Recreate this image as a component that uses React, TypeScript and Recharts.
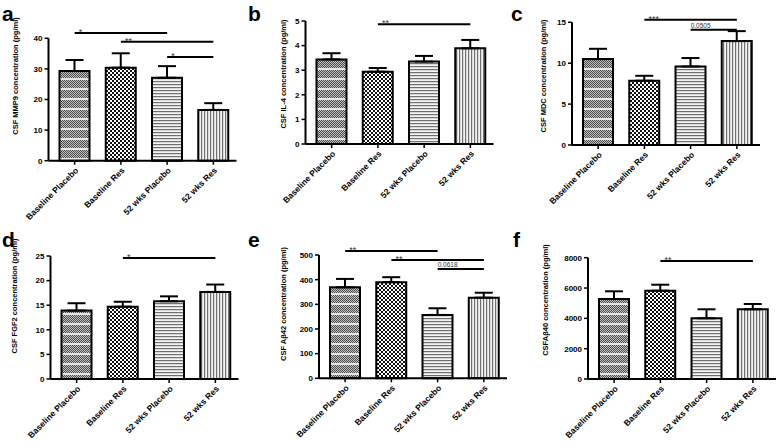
import React from 'react';
import { BarChart, Bar, XAxis, YAxis, ErrorBar, Cell, ReferenceLine, Label } from 'recharts';

const categories = ['Baseline Placebo', 'Baseline Res', '52 wks Placebo', '52 wks Res'];

// a: MMP9
const mmp9Values = [29.3, 30.4, 27.1, 16.6];
const mmp9Errors = [3.6, 4.7, 3.8, 2.2];
const mmp9Ticks = [0, 10, 20, 30, 40];
const mmp9Sig = [
  { from: 0, to: 2, y: 41.7, text: '*' },
  { from: 1, to: 3, y: 38.9, text: '**' },
  { from: 2, to: 3, y: 33.9, text: '*' },
];

// b: IL-4
const il4Values = [3.44, 2.94, 3.35, 3.89];
const il4Errors = [0.25, 0.15, 0.23, 0.34];
const il4Ticks = [0, 1, 2, 3, 4, 5];
const il4Sig = [{ from: 1, to: 3, y: 4.87, text: '**' }];

// c: MDC
const mdcValues = [10.5, 7.86, 9.6, 12.7];
const mdcErrors = [1.26, 0.6, 1.03, 1.22];
const mdcTicks = [0, 5, 10, 15];
const mdcSig = [
  { from: 1, to: 3, y: 15.3, text: '***' },
  { from: 2, to: 3, y: 14.1, text: '0.0505' },
];

// d: FGF2
const fgf2Values = [13.9, 14.7, 15.8, 17.7];
const fgf2Errors = [1.5, 1.0, 1.0, 1.5];
const fgf2Ticks = [0, 5, 10, 15, 20, 25];
const fgf2Sig = [{ from: 1, to: 3, y: 24.6, text: '*' }];

// e: Abeta42
const ab42Values = [369, 390, 257, 327];
const ab42Errors = [34, 20, 27, 20];
const ab42Ticks = [0, 100, 200, 300, 400, 500];
const ab42Sig = [
  { from: 0, to: 2, y: 516, text: '**' },
  { from: 1, to: 3, y: 480, text: '**' },
  { from: 2, to: 3, y: 443, text: '0.0618' },
];

// f: Abeta40
const ab40Values = [5276, 5824, 4003, 4597];
const ab40Errors = [508, 395, 594, 349];
const ab40Ticks = [0, 2000, 4000, 6000, 8000];
const ab40Sig = [{ from: 1, to: 3, y: 7780, text: '**' }];

const FONT = '"Liberation Sans", Arial, sans-serif';
const PLOT_W = 188;

const panels = [
  { letter: 'a', yLabel: 'CSF MMP9 concentration (pg/ml)', values: mmp9Values, errors: mmp9Errors, ticks: mmp9Ticks, sig: mmp9Sig,
    L: 0, T: 0, W: 255, H: 225, ax: 48.5, pt: 38.3, pb: 160.7, lx: 15, ly: 76, px: 2, py: 21 },
  { letter: 'b', yLabel: 'CSF IL-4 concentration (pg/ml)', values: il4Values, errors: il4Errors, ticks: il4Ticks, sig: il4Sig,
    L: 255, T: 0, W: 255, H: 225, ax: 305.5, pt: 21, pb: 144, lx: 283, ly: 74, px: 248, py: 21 },
  { letter: 'c', yLabel: 'CSF MDC concentration (pg/ml)', values: mdcValues, errors: mdcErrors, ticks: mdcTicks, sig: mdcSig,
    L: 510, T: 0, W: 268, H: 225, ax: 572, pt: 22.3, pb: 145, lx: 543, ly: 76, px: 511, py: 21 },
  { letter: 'd', yLabel: 'CSF FGF2 concentration (pg/ml)', values: fgf2Values, errors: fgf2Errors, ticks: fgf2Ticks, sig: fgf2Sig,
    L: 0, T: 225, W: 255, H: 222, ax: 50.5, pt: 256, pb: 379, lx: 14, ly: 296, px: 2, py: 247 },
  { letter: 'e', yLabel: 'CSF A\u03b242 concentration (pg/ml)', values: ab42Values, errors: ab42Errors, ticks: ab42Ticks, sig: ab42Sig,
    L: 255, T: 225, W: 255, H: 222, ax: 319, pt: 255, pb: 378.3, lx: 283, ly: 304, px: 248, py: 247 },
  { letter: 'f', yLabel: 'CSFA\u03b240 concentration (pg/ml)', values: ab40Values, errors: ab40Errors, ticks: ab40Ticks, sig: ab40Sig,
    L: 510, T: 225, W: 268, H: 222, ax: 588, pt: 257.7, pb: 379, lx: 545, ly: 300, px: 513, py: 247 },
];

function Patterns() {
  return (
    <svg width={0} height={0} style={{ position: 'absolute' }}>
      <defs>
        <pattern id="pat0" width={2} height={10} patternUnits="userSpaceOnUse">
          <rect width={2} height={10} fill="#c4c4c4" />
          {[0, 1, 2, 3, 4, 5, 6, 7].map((r) => (
            <rect key={r} x={r % 2} y={r} width={1} height={1} fill="#4a4a4a" />
          ))}
          <rect y={8} width={2} height={2} fill="#e6e6e6" />
        </pattern>
        <pattern id="pat1" width={4} height={4} patternUnits="userSpaceOnUse">
          <rect width={4} height={4} fill="#fff" />
          <rect width={2} height={2} fill="#111" />
          <rect x={2} y={2} width={2} height={2} fill="#111" />
        </pattern>
        <pattern id="pat2" width={4} height={3} patternUnits="userSpaceOnUse">
          <rect width={4} height={3} fill="#f4f4f4" />
          <rect width={4} height={1.2} fill="#707070" />
        </pattern>
        <pattern id="pat3" width={3} height={4} patternUnits="userSpaceOnUse">
          <rect width={3} height={4} fill="#f4f4f4" />
          <rect width={1.2} height={4} fill="#707070" />
        </pattern>
      </defs>
    </svg>
  );
}

function Panel({ p }: { p: any }) {
  const data = categories.map((name, i) => ({ name, value: p.values[i], err: [0, p.errors[i]] }));
  const max = p.ticks[p.ticks.length - 1];
  const margin = { top: p.pt - p.T, right: p.L + p.W - p.ax - PLOT_W, bottom: 0, left: 0 };
  const tickStyle = { fontSize: 8, fontWeight: 700, fill: '#000', fontFamily: FONT };

  return (
    <div style={{ position: 'absolute', left: p.L, top: p.T, width: p.W, height: p.H }}>
      <BarChart width={p.W} height={p.H} data={data} margin={margin} barSize={30} style={{ overflow: 'visible' }}>
        <XAxis
          dataKey="name"
          height={p.T + p.H - p.pb}
          padding={{ left: 3, right: 0 }}
          interval={0}
          angle={-45}
          textAnchor="end"
          tick={{ ...tickStyle, fontSize: 8.5 }}
          tickSize={4}
          tickLine={{ stroke: '#000', strokeWidth: 1.5 }}
          axisLine={{ stroke: '#000', strokeWidth: 2 }}
        />
        <YAxis
          width={p.ax - p.L}
          domain={[0, max]}
          ticks={p.ticks}
          interval={0}
          tick={tickStyle}
          tickSize={4}
          tickLine={{ stroke: '#000', strokeWidth: 1.5 }}
          axisLine={{ stroke: '#000', strokeWidth: 2 }}
        >
          <Label
            content={() => (
              <text
                transform={`translate(${p.lx - p.L},${p.ly - p.T}) rotate(-90)`}
                textAnchor="middle"
                dominantBaseline="central"
                fontSize={7.5}
                fontWeight={700}
                fontFamily={FONT}
                fill="#000"
              >
                {p.yLabel}
              </text>
            )}
          />
        </YAxis>
        <Bar dataKey="value" stroke="#000" strokeWidth={2} isAnimationActive={false}>
          {data.map((_, i) => (
            <Cell key={i} fill={`url(#pat${i})`} />
          ))}
          <ErrorBar dataKey="err" direction="y" width={9} stroke="#000" strokeWidth={2} />
        </Bar>
        {p.sig.map((s: any, i: number) => (
          <ReferenceLine
            key={i}
            segment={[
              { x: categories[s.from], y: s.y },
              { x: categories[s.to], y: s.y },
            ]}
            stroke="#000"
            strokeWidth={2}
            ifOverflow="visible"
            label={(lp: any) => {
              const vb = lp.viewBox || {};
              const isNum = s.text.length > 3;
              return (
                <text
                  x={(vb.x ?? 0) + (isNum ? 0 : 4)}
                  y={(vb.y ?? 0) + (isNum ? -2 : 2)}
                  fontSize={isNum ? 6.5 : 9}
                  fontFamily={FONT}
                  fill="#333"
                >
                  {s.text}
                </text>
              );
            }}
          />
        ))}
      </BarChart>
    </div>
  );
}

export default function App() {
  return (
    <div style={{ position: 'absolute', left: 0, top: 0, width: 778, height: 447, background: '#fff', fontFamily: FONT }}>
      <Patterns />
      {panels.map((p) => (
        <Panel key={p.letter} p={p} />
      ))}
      <svg width={778} height={447} style={{ position: 'absolute', left: 0, top: 0, pointerEvents: 'none' }}>
        {panels.map((p) => (
          <text key={p.letter} x={p.px} y={p.py} fontSize={21} fontWeight={700} fontFamily={FONT} fill="#000">
            {p.letter}
          </text>
        ))}
      </svg>
    </div>
  );
}
